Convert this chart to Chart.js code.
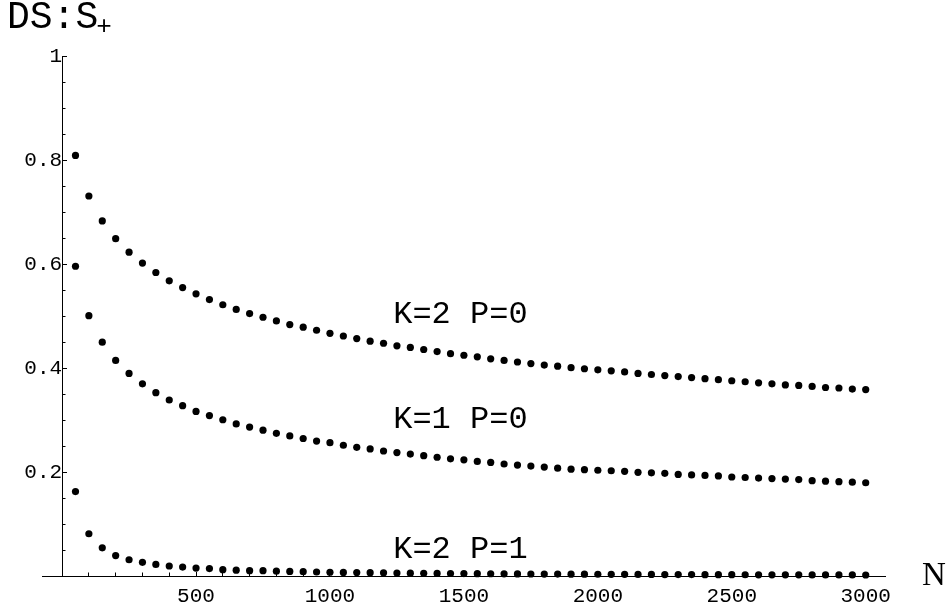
<!DOCTYPE html>
<html>
<head>
<meta charset="utf-8">
<script src="https://cdn.jsdelivr.net/npm/chart.js@4.4.1/dist/chart.umd.min.js"></script>
<style>
html, body { margin: 0; padding: 0; background: #fff; }
</style>
</head>
<body>
<canvas id="dsChart" width="947" height="608"></canvas>
<script>
// N values (x), one point every 50
const nValues = [
    50, 100, 150, 200, 250, 300, 350, 400, 450, 500,
    550, 600, 650, 700, 750, 800, 850, 900, 950, 1000,
    1050, 1100, 1150, 1200, 1250, 1300, 1350, 1400, 1450, 1500,
    1550, 1600, 1650, 1700, 1750, 1800, 1850, 1900, 1950, 2000,
    2050, 2100, 2150, 2200, 2250, 2300, 2350, 2400, 2450, 2500,
    2550, 2600, 2650, 2700, 2750, 2800, 2850, 2900, 2950, 3000
];

// K=2 P=0
const k2p0 = [
    0.809, 0.731, 0.683, 0.649, 0.623, 0.602, 0.584, 0.568, 0.555, 0.543,
    0.532, 0.522, 0.513, 0.505, 0.498, 0.491, 0.484, 0.479, 0.473, 0.467,
    0.462, 0.457, 0.452, 0.448, 0.443, 0.440, 0.436, 0.432, 0.428, 0.425,
    0.422, 0.418, 0.415, 0.412, 0.409, 0.406, 0.404, 0.401, 0.399, 0.397,
    0.395, 0.393, 0.390, 0.388, 0.386, 0.384, 0.382, 0.380, 0.378, 0.376,
    0.374, 0.372, 0.370, 0.368, 0.367, 0.365, 0.363, 0.362, 0.360, 0.359
];

// K=1 P=0
const k1p0 = [
    0.596, 0.501, 0.450, 0.415, 0.390, 0.370, 0.353, 0.339, 0.328, 0.317,
    0.309, 0.301, 0.293, 0.287, 0.281, 0.275, 0.270, 0.265, 0.260, 0.257,
    0.252, 0.248, 0.245, 0.241, 0.238, 0.235, 0.232, 0.229, 0.226, 0.224,
    0.221, 0.219, 0.216, 0.214, 0.212, 0.210, 0.208, 0.206, 0.205, 0.204,
    0.203, 0.202, 0.200, 0.199, 0.198, 0.196, 0.195, 0.194, 0.193, 0.191,
    0.190, 0.189, 0.188, 0.187, 0.186, 0.184, 0.183, 0.182, 0.181, 0.180
];

// K=2 P=1
const k2p1 = [
    0.163, 0.082, 0.055, 0.040, 0.032, 0.027, 0.023, 0.020, 0.018, 0.016,
    0.015, 0.013, 0.012, 0.011, 0.011, 0.010, 0.0095, 0.009, 0.0085, 0.008,
    0.0077, 0.0074, 0.0071, 0.0068, 0.0065, 0.0062, 0.006, 0.0058, 0.0056, 0.0054,
    0.0052, 0.0051, 0.0049, 0.0048, 0.0046, 0.0045, 0.0044, 0.0043, 0.0042, 0.0041,
    0.004, 0.0039, 0.0038, 0.0037, 0.0036, 0.0035, 0.0035, 0.0034, 0.0033, 0.0033,
    0.0032, 0.0031, 0.0031, 0.003, 0.003, 0.0029, 0.0029, 0.0028, 0.0028, 0.0027
];

const curveNames = ['K=2 P=0', 'K=1 P=0', 'K=2 P=1'];
const xTicks = [500, 1000, 1500, 2000, 2500, 3000];
const yTicks = [0.2, 0.4, 0.6, 0.8, 1];

const toPoints = (ys) => ys.map((v, i) => ({x: nValues[i], y: v}));

const mono = 'Liberation Mono, Courier New, monospace';

const dotStyle = {
    showLine: false,
    pointRadius: 3.6,
    pointHoverRadius: 3.6,
    pointBackgroundColor: '#000',
    pointBorderWidth: 0,
    borderColor: '#000',
    clip: false
};

// curve names, frame title and axis letter
const textPlugin = {
    id: 'dsText',
    afterDraw(chart) {
        const ctx = chart.ctx;
        const sx = chart.scales.x;
        const sy = chart.scales.y;
        const anchors = [[1236, 0.486], [1236, 0.286], [1236, 0.035]];
        ctx.save();
        ctx.fillStyle = '#000';
        ctx.textBaseline = 'alphabetic';
        ctx.textAlign = 'left';
        ctx.font = '32px ' + mono;
        curveNames.forEach((name, i) => {
            ctx.fillText(name, sx.getPixelForValue(anchors[i][0]), sy.getPixelForValue(anchors[i][1]));
        });
        ctx.font = '38px ' + mono;
        ctx.fillText('DS:S', 7, 28);
        const w = ctx.measureText('DS:S').width;
        ctx.font = '26px ' + mono;
        ctx.fillText('+', 7 + w - 2, 34);
        ctx.font = '33px Liberation Serif, Times New Roman, serif';
        ctx.fillText('N', 922, 585);
        ctx.restore();
    }
};

const ctx = document.getElementById('dsChart').getContext('2d');
const dsChart = new Chart(ctx, {
    type: 'scatter',
    data: {
        datasets: [
            Object.assign({label: curveNames[0], data: toPoints(k2p0)}, dotStyle),
            Object.assign({label: curveNames[1], data: toPoints(k1p0)}, dotStyle),
            Object.assign({label: curveNames[2], data: toPoints(k2p1)}, dotStyle)
        ]
    },
    options: {
        responsive: false,
        animation: false,
        layout: { padding: {left: 42, right: 62, top: 56, bottom: 31} },
        plugins: {
            legend: { display: false },
            tooltip: { enabled: false }
        },
        scales: {
            x: {
                type: 'linear',
                min: -75,
                max: 3072,
                position: {y: 0},
                afterBuildTicks: (scale) => { scale.ticks = xTicks.map(v => ({value: v})); },
                border: { display: true, color: '#000', width: 1 },
                grid: { drawOnChartArea: false, color: '#000', tickLength: -5, tickWidth: 1 },
                ticks: {
                    autoSkip: false,
                    maxRotation: 0,
                    padding: 12,
                    color: '#000',
                    font: { family: mono, size: 21 },
                    callback: (v) => String(v)
                }
            },
            xMinor: {
                type: 'linear',
                min: -75,
                max: 3072,
                position: {y: 0},
                border: { display: false },
                grid: { drawOnChartArea: false, color: '#000', tickLength: -3.5, tickWidth: 1 },
                ticks: { display: false, stepSize: 100, includeBounds: false }
            },
            y: {
                type: 'linear',
                min: 0,
                max: 1,
                position: {x: 0},
                afterBuildTicks: (scale) => { scale.ticks = yTicks.map(v => ({value: v})); },
                border: { display: true, color: '#000', width: 1 },
                grid: { drawOnChartArea: false, color: '#000', tickLength: -5, tickWidth: 1 },
                ticks: {
                    padding: 19,
                    color: '#000',
                    font: { family: mono, size: 21 },
                    callback: (v) => String(v)
                }
            },
            yMinor: {
                type: 'linear',
                min: 0,
                max: 1,
                position: {x: 0},
                border: { display: false },
                grid: { drawOnChartArea: false, color: '#000', tickLength: -3.5, tickWidth: 1 },
                ticks: { display: false, stepSize: 0.05, includeBounds: false }
            }
        }
    },
    plugins: [textPlugin]
});
</script>
</body>
</html>
